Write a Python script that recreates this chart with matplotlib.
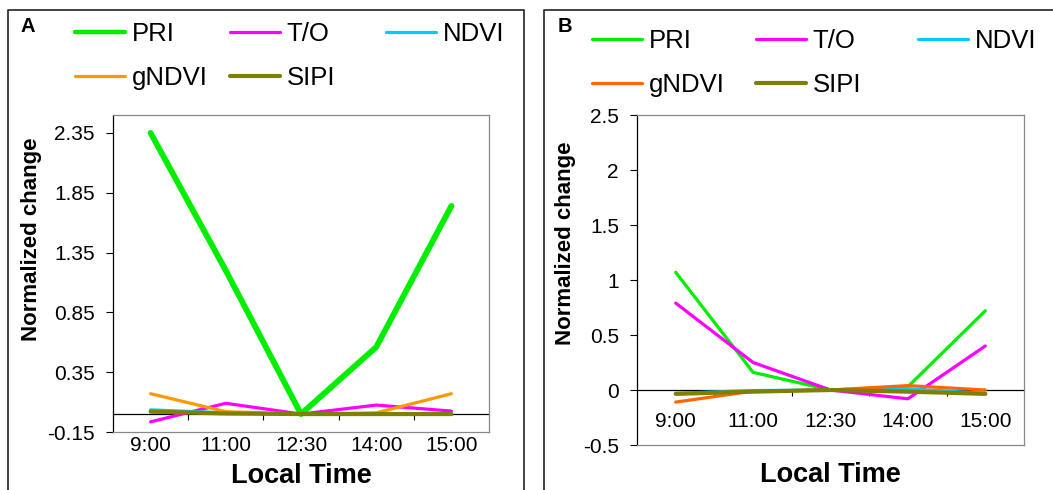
import numpy as np
import matplotlib as mpl
import matplotlib.pyplot as plt
from matplotlib.lines import Line2D

mpl.rc('font', family=['Liberation Sans', 'DejaVu Sans'])

W, H = 1053, 490

times = ['9:00', '11:00', '12:30', '14:00', '15:00']
names = ['PRI', 'T/O', 'NDVI', 'gNDVI', 'SIPI']

# panel A
a_pri = [2.35, 1.20, 0.0, 0.56, 1.74]
a_to = [-0.065, 0.09, 0.0, 0.075, 0.025]
a_ndvi = [0.035, 0.01, 0.0, 0.005, 0.0]
a_gndvi = [0.17, 0.02, 0.0, 0.01, 0.17]
a_sipi = [0.02, 0.005, 0.0, 0.0, 0.0]
a_yticks = [-0.15, 0.35, 0.85, 1.35, 1.85, 2.35]

# panel B
b_pri = [1.07, 0.16, 0.0, 0.03, 0.72]
b_to = [0.79, 0.25, 0.0, -0.08, 0.40]
b_ndvi = [-0.03, -0.005, 0.0, 0.01, -0.03]
b_gndvi = [-0.11, -0.01, 0.0, 0.04, 0.0]
b_sipi = [-0.035, -0.015, 0.0, -0.015, -0.035]
b_yticks = [-0.5, 0, 0.5, 1, 1.5, 2, 2.5]


def px_axes(fig, l, t, r, b):
    return fig.add_axes((l / W, 1 - b / H, (r - l) / W, (b - t) / H))


def panel_box(fig, l, t, r):
    fig.add_artist(Line2D([l / W, l / W, r / W, r / W],
                          [-0.1, 1 - t / H, 1 - t / H, -0.1],
                          transform=fig.transFigure, color='#333333', lw=1.3))


def draw_panel(fig, ax, series, colors, widths, yticks, ylim, ylab_xy, xlab_y,
               leg_x, leg_y, letter, letter_xy):
    x = np.arange(len(times)) + 0.5
    lines = {}
    for nm, vals, c, w in zip(names, series, colors, widths):
        lines[nm], = ax.plot(x, vals, color=c, lw=w, solid_capstyle='round')
    ax.set_xlim(0, len(times))
    ax.set_ylim(*ylim)
    ax.set_yticks(yticks)
    ax.set_yticklabels(['%g' % v for v in yticks])
    ax.tick_params(axis='y', length=5, width=0.8, pad=8, labelsize=15)
    ax.set_xticks([])
    for s in ['top', 'right', 'bottom']:
        ax.spines[s].set_color('#888888')
        ax.spines[s].set_linewidth(0.9)
    ax.spines['left'].set_color('black')
    ax.spines['left'].set_linewidth(0.9)

    # category axis crossing at y = 0
    sec = ax.secondary_xaxis(0, transform=ax.transData)
    sec.spines['bottom'].set_color('black')
    sec.spines['bottom'].set_linewidth(0.9)
    sec.set_xticks(np.arange(1, len(times)))
    sec.set_xticklabels([])
    sec.set_xticks(x, times, minor=True)
    sec.tick_params(axis='x', which='major', length=4, width=0.8, direction='out')
    sec.tick_params(axis='x', which='minor', length=0, pad=16, labelsize=15)

    ax.set_ylabel('Normalized change', fontsize=16, fontweight='bold', va='center')
    ax.yaxis.set_label_coords(*ylab_xy)
    ax.set_xlabel('Local Time', fontsize=19.5, fontweight='bold', va='center')
    ax.xaxis.set_label_coords(0.5, xlab_y)

    cols = [['PRI', 'gNDVI'], ['T/O', 'SIPI'], ['NDVI']]
    for cx, col in zip(leg_x, cols):
        leg = fig.legend([lines[n] for n in col], col, loc='upper left',
                         bbox_to_anchor=(cx / W, 1 - leg_y / H), frameon=False,
                         borderpad=0, borderaxespad=0, handlelength=1.95,
                         handletextpad=0.25, labelspacing=0.78, fontsize=18.5)
        for ln in leg.get_lines():
            ln.set_linewidth(min(ln.get_linewidth(), 3.2))
    fig.text(letter_xy[0] / W, 1 - letter_xy[1] / H, letter, fontsize=14.5,
             fontweight='bold', ha='center', va='center')


fig = plt.figure(figsize=(W / 100, H / 100), dpi=100)

panel_box(fig, 8, 10, 524)
panel_box(fig, 544, 10, 1060)

ax_a = px_axes(fig, 113, 115, 489, 432)
draw_panel(fig, ax_a, [a_pri, a_to, a_ndvi, a_gndvi, a_sipi],
           ['#00EE00', '#FF00FF', '#00CCFF', '#FF9900', '#808000'],
           [4.2, 2.3, 2.3, 2.3, 3.0], a_yticks, (-0.15, 2.5),
           (-0.218, 0.609), -0.138, [75, 230, 386], 22, 'A', (28, 27))

ax_b = px_axes(fig, 637, 115, 1024, 445)
draw_panel(fig, ax_b, [b_pri, b_to, b_ndvi, b_gndvi, b_sipi],
           ['#00EE00', '#FF00FF', '#00CCFF', '#FF6600', '#808000'],
           [2.3, 2.3, 2.3, 2.3, 3.0], b_yticks, (-0.5, 2.5),
           (-0.186, 0.612), -0.091, [592, 756, 918], 29, 'B', (565, 26))

fig.savefig('out.png', dpi=100)
